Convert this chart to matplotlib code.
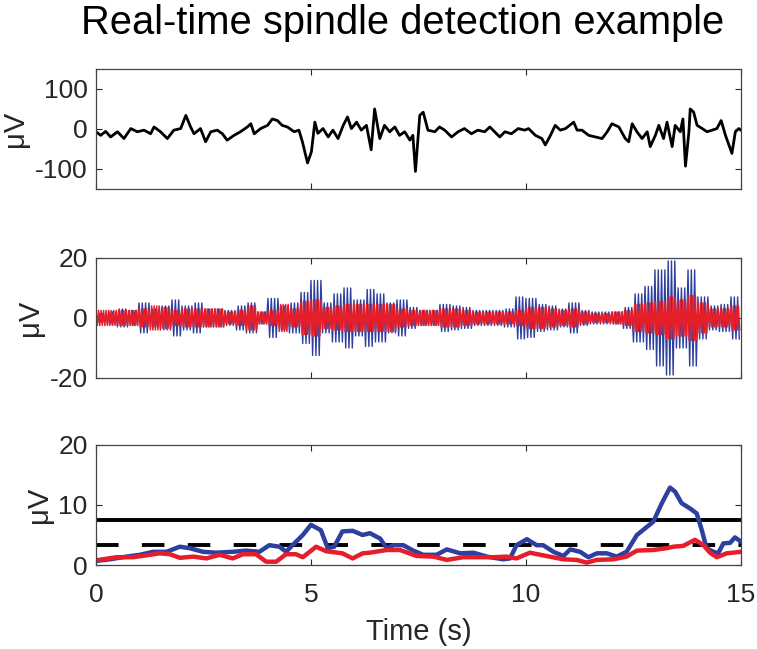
import matplotlib
matplotlib.use("Agg")
import matplotlib.pyplot as plt
import numpy as np

plt.rcParams['font.family'] = ['Liberation Sans', 'DejaVu Sans']
plt.rcParams['axes.unicode_minus'] = False

# raw EEG trace (s, uV)
eeg_t = [0.0, 0.11, 0.225, 0.34, 0.50, 0.65, 0.81, 0.96, 1.12, 1.27, 1.35, 1.50, 1.66, 1.81,
         1.97, 2.09, 2.20, 2.28, 2.43, 2.55, 2.67, 2.82, 2.94, 3.05, 3.21, 3.36, 3.52, 3.60,
         3.68, 3.83, 3.99, 4.10, 4.22, 4.33, 4.45, 4.61, 4.72, 4.80, 4.92,
         5.01, 5.09, 5.16, 5.28, 5.40, 5.51, 5.63, 5.75, 5.85, 5.94, 6.06, 6.17, 6.29, 6.40,
         6.48, 6.60, 6.71, 6.83, 6.95, 7.06, 7.18, 7.30, 7.37, 7.43, 7.49, 7.53, 7.61, 7.72,
         7.88, 7.99, 8.11, 8.27, 8.42, 8.57, 8.73, 8.88, 9.04, 9.16, 9.27, 9.39, 9.51, 9.66,
         9.82, 9.97,
         10.06, 10.22, 10.37, 10.45, 10.57, 10.68, 10.80, 10.92, 11.11, 11.19, 11.30, 11.46,
         11.61, 11.77, 11.89, 12.00, 12.16, 12.31, 12.39, 12.47, 12.58, 12.70, 12.82, 12.89,
         13.01, 13.09, 13.20, 13.28, 13.40, 13.47, 13.59, 13.65, 13.71, 13.79, 13.82, 13.90,
         13.98, 14.10, 14.21, 14.33, 14.44, 14.54, 14.64, 14.72, 14.79, 14.87, 14.95, 15.0]
eeg_v = [-7, -16, -6, -20, -7, -24, 1, -7, -3, -12, 5, -7, -24, -3,
         1, 34, 5, -12, 1, -32, -7, -3, -12, -28, -16, -7, 5, 13,
         -12, 1, 9, 25, 21, 9, 5, -7, -3, -32, -85,
         -57, 17, -11, 1, -20, -3, -24, 9, 30, 1, 17, -3, 9, -52,
         50, -24, 9, -7, 5, -16, -7, -28, -16, -106, -24, 34, 42, -3,
         -7, 5, -3, -20, -7, 1, -12, -3, -7, 5, -7, -20, -7, -12,
         1, -3,
         1, -16, -24, -40, -16, 9, -3, 1, 17, -3, -3, -16,
         -20, -24, -7, 13, 5, -24, -32, 13, -7, -24, -7, -44,
         -16, 9, -24, 17, -44, 9, -7, 25, -93, -7, 50, 42,
         9, 1, -7, -3, 1, 21, -16, -40, -61, -7, 1, -3]

# band-passed signals: peak amplitude (uV) in each 0.25 s window
blue_amp = [1.5, 2, 3, 2.5, 5, 3, 4, 6, 4, 5, 3, 3, 2.5, 4, 5, 2, 6.5, 4, 5, 8.5,
            12.5, 5, 8, 10, 6, 9.5, 8, 5, 6, 3.5, 2.5, 2.5, 4.5, 4, 3.5, 2.5, 2.5, 2.5, 3, 7,
            6.5, 4.5, 4, 3, 5, 2.5, 2, 2, 2, 3.5, 8, 10.5, 16, 19, 10, 16, 7, 4, 4.5, 7]
red_amp = [2.5, 2.5, 2.5, 2.5, 3, 4, 3.5, 2.5, 3, 3, 3, 3, 2, 2.5, 4, 2, 2.5, 4.5, 3, 5.5,
           6, 3.5, 4, 4.5, 4.5, 4.5, 4.5, 4.5, 3, 2.5, 2.5, 2.5, 3, 3, 2.5, 2, 2, 2, 2, 2.5,
           3.5, 3.5, 3, 2.5, 3, 2, 1.5, 1.5, 2, 2.5, 4.5, 5, 5.5, 7, 6, 7.5, 5, 3, 3, 4]
blue_hz = 13
red_hz = 17

# envelopes (bottom panel)
env_blue_t = [0.02, 0.32, 0.71, 1.02, 1.33, 1.64, 1.95, 2.18, 2.49, 2.80, 3.18, 3.49, 3.80,
              4.03, 4.27, 4.42, 4.57, 4.81, 5.00, 5.23, 5.39, 5.54, 5.73, 5.97, 6.20, 6.37,
              6.61, 6.76, 6.92, 7.15, 7.38, 7.61, 7.92, 8.16, 8.47, 8.78, 9.09, 9.47, 9.63,
              9.78, 10.02, 10.25, 10.40, 10.64, 10.87, 11.03, 11.26, 11.45, 11.65, 11.88,
              12.11, 12.34, 12.58, 12.77, 12.96, 13.16, 13.35, 13.47, 13.62, 13.82, 13.97,
              14.09, 14.20, 14.36, 14.47, 14.59, 14.75, 14.86, 15.0]
env_blue_v = [0.7, 0.95, 1.4, 1.7, 2.2, 2.2, 3.05, 2.8, 2.2, 2.05, 2.2, 2.4, 2.2,
              3.3, 3.05, 2.2, 3.3, 5.0, 6.7, 5.8, 2.8, 3.05, 5.6, 5.7, 5.0, 5.3,
              4.4, 2.8, 3.3, 3.3, 2.4, 1.7, 1.7, 2.6, 1.95, 2.05, 1.4, 0.95, 1.1,
              3.3, 4.3, 3.3, 3.3, 2.2, 1.5, 2.6, 2.2, 1.3, 1.95, 1.95,
              1.4, 2.2, 5.0, 6.1, 7.2, 10.3, 12.9, 12.2, 10.3, 9.4, 8.6,
              5.8, 2.8, 2.2, 1.95, 3.6, 3.7, 4.6, 3.9]
env_red_t = [0.02, 0.48, 0.87, 1.25, 1.48, 1.72, 1.95, 2.26, 2.57, 2.87, 3.18, 3.42, 3.72,
             3.96, 4.19, 4.42, 4.65, 4.81, 5.12, 5.35, 5.73, 5.97, 6.20, 6.37, 6.76, 7.07,
             7.46, 7.85, 8.16, 8.54, 8.93, 9.24, 9.55, 9.78, 10.09, 10.48, 10.87, 11.18,
             11.41, 11.65, 12.03, 12.34, 12.58, 12.96, 13.27, 13.43, 13.66, 13.93, 14.13,
             14.28, 14.44, 14.67, 15.0]
env_red_v = [0.8, 1.3, 1.3, 1.7, 1.95, 1.8, 1.2, 1.4, 1.1, 1.7, 1.1, 1.8, 1.8,
             0.55, 0.55, 1.8, 1.8, 1.3, 3.05, 2.3, 1.95, 1.1, 1.95, 2.05, 2.5, 2.5,
             1.5, 1.4, 0.85, 1.3, 1.3, 1.3, 1.4, 1.1, 2.05, 1.5, 0.95, 0.85,
             0.4, 0.85, 0.95, 1.4, 2.4, 2.5, 2.8, 3.05, 3.2, 4.2, 3.3,
             2.05, 1.3, 1.95, 2.2]
thr_high = 7.5
thr_low = 3.3

blue = '#2d3f9f'
red = '#e61e2a'
txt = '#262626'


def osc(amp, hz):
    # alternate +/- peaks, each taking the amplitude of its 0.25 s window
    t = np.arange(0, 15, 0.5 / hz)
    idx = np.minimum((t / 0.25).astype(int), len(amp) - 1)
    sign = np.where(np.arange(len(t)) % 2 == 0, 1, -1)
    return t, np.array(amp)[idx] * sign


fig = plt.figure(figsize=(7.57, 6.49), dpi=100)
left, width = 0.1268, 0.852
ax1 = fig.add_axes([left, 0.7088, width, 0.185])
ax2 = fig.add_axes([left, 0.4176, width, 0.185])
ax3 = fig.add_axes([left, 0.1294, width, 0.185])

ax1.plot(eeg_t, eeg_v, color='black', lw=2.0)
ax1.set_ylim(-150, 150)
ax1.set_yticks([-100, 0, 100])

tb, vb = osc(blue_amp, blue_hz)
tr, vr = osc(red_amp, red_hz)
ax2.plot(tb, vb, color=blue, lw=1.0)
ax2.plot(tr, vr, color=red, lw=1.1)
ax2.set_ylim(-20, 20)
ax2.set_yticks([-20, 0, 20])

ax3.axhline(thr_high, color='black', lw=2.8)
ax3.axhline(thr_low, color='black', lw=2.8, dashes=[5.8, 6.0])
ax3.plot(env_blue_t, env_blue_v, color=blue, lw=3.2)
ax3.plot(env_red_t, env_red_v, color=red, lw=3.2)
ax3.set_ylim(0, 20)
ax3.set_yticks([0, 10, 20])
ax3.set_xlabel('Time (s)', fontsize=21, color=txt, labelpad=8)

for ax in (ax1, ax2, ax3):
    ax.set_xlim(0, 15)
    ax.set_xticks([0, 5, 10, 15])
    ax.tick_params(direction='in', length=4.5, width=0.8, top=True, right=True,
                   labelsize=19, colors=txt)
    ax.tick_params(axis='y', pad=6)
    ax.tick_params(axis='x', pad=13)
    ax.set_ylabel('μV', fontsize=21, color=txt, labelpad=4)
    for s in ax.spines.values():
        s.set_color('#444444')
        s.set_linewidth(0.9)
for ax in (ax1, ax2):
    ax.tick_params(labelbottom=False)

fig.text(0.532, 0.965, 'Real-time spindle detection example', fontsize=28.7,
         ha='center', va='center')

fig.savefig('out.png', dpi=100)
